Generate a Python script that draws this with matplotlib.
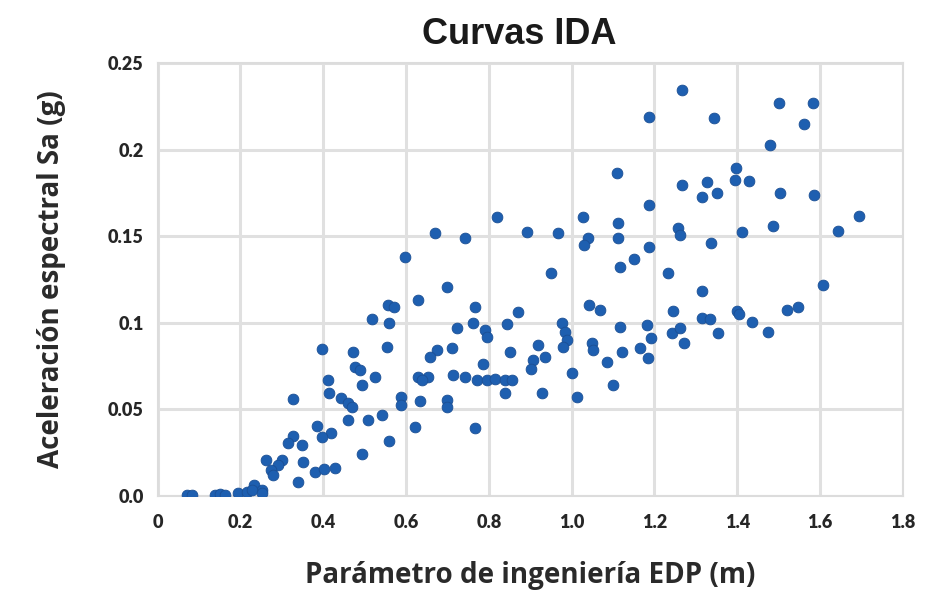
import matplotlib
matplotlib.use("Agg")
import matplotlib.pyplot as plt

# Engineering demand parameter (m) and spectral acceleration (g) for each IDA point
edp = [
    0.556, 0.572, 0.517, 0.560, 0.396, 0.473, 0.553, 0.476, 0.488, 0.524,
    0.493, 0.411, 0.415, 0.444, 0.459, 0.469, 0.589, 0.589, 0.326, 0.459,
    0.507, 0.543, 0.386, 0.420, 0.396, 0.326, 0.314, 0.348, 0.560, 0.493,
    0.263, 0.300, 0.290, 0.350, 0.275, 0.278, 0.379, 0.403, 0.428, 0.338,
    0.234, 0.251, 0.072, 0.082, 0.138, 0.150, 0.162, 0.193, 0.215, 0.227, 0.251,
    0.698, 0.628, 0.766, 0.870, 1.043, 1.068, 0.722, 0.761, 0.790, 0.795,
    0.845, 0.976, 0.983, 0.988, 0.978, 1.116, 1.181, 1.191, 0.710, 0.674,
    0.657, 0.850, 0.918, 0.935, 0.906, 0.903, 1.048, 1.051, 1.121, 1.164,
    1.184, 1.085, 0.787, 0.628, 0.652, 0.638, 0.713, 0.742, 0.771, 0.795,
    0.814, 0.838, 0.855, 1.002, 1.099, 0.838, 0.928, 1.014, 0.633, 0.698,
    0.698, 0.621, 0.766,
    1.606, 1.314, 1.244, 1.316, 1.333, 1.399, 1.403, 1.519, 1.546, 1.435,
    1.473, 1.353, 1.242, 1.261, 1.271,
    1.188, 1.109, 1.188, 0.819, 1.027, 0.669, 0.742, 0.891, 0.966, 1.039,
    1.031, 1.111, 1.111, 1.188, 1.150, 1.116, 0.597, 0.949, 1.266, 1.343,
    1.500, 1.582, 1.560, 1.478, 1.396, 1.394, 1.428, 1.326, 1.350, 1.314,
    1.266, 1.502, 1.585, 1.693, 1.486, 1.643, 1.256, 1.261, 1.411, 1.336,
    1.232,
]
sa = [
    0.110, 0.109, 0.102, 0.100, 0.085, 0.083, 0.086, 0.0745, 0.0727, 0.0687,
    0.0641, 0.067, 0.0595, 0.0566, 0.0537, 0.0514, 0.0572, 0.0525, 0.056, 0.0439,
    0.0439, 0.0468, 0.0404, 0.0364, 0.0341, 0.0346, 0.0306, 0.0294, 0.0318, 0.0242,
    0.0208, 0.0208, 0.0179, 0.0196, 0.015, 0.0121, 0.0139, 0.0156, 0.0162, 0.0081,
    0.0064, 0.0035, 0.0006, 0.0006, 0.0006, 0.0010, 0.0006, 0.0017, 0.0023, 0.0035, 0.0017,
    0.1207, 0.1132, 0.1091, 0.1062, 0.1103, 0.1074, 0.097, 0.0999, 0.0958, 0.0918,
    0.0993, 0.0999, 0.0947, 0.0901, 0.086, 0.0976, 0.0987, 0.0912, 0.0855, 0.0843,
    0.0803, 0.0831, 0.0872, 0.0803, 0.0785, 0.0733, 0.0883, 0.0843, 0.0831, 0.0855,
    0.0797, 0.0774, 0.0762, 0.0687, 0.0687, 0.067, 0.0699, 0.0687, 0.067, 0.067,
    0.0676, 0.067, 0.067, 0.071, 0.0641, 0.0595, 0.0595, 0.0572, 0.0548, 0.0554,
    0.0514, 0.0398, 0.0393,
    0.1218, 0.1184, 0.1068, 0.1028, 0.1022, 0.1068, 0.105, 0.1074, 0.1091, 0.1005,
    0.0947, 0.0941, 0.0941, 0.097, 0.0883,
    0.2188, 0.1865, 0.168, 0.1611, 0.1611, 0.1518, 0.149, 0.1524, 0.1518, 0.149,
    0.1449, 0.1576, 0.149, 0.1438, 0.1368, 0.1322, 0.138, 0.1288, 0.2344, 0.2182,
    0.2269, 0.2269, 0.2148, 0.2027, 0.1894, 0.1824, 0.1819, 0.1813, 0.175, 0.1726,
    0.1796, 0.175, 0.1738, 0.1617, 0.1559, 0.153, 0.1547, 0.1507, 0.1524, 0.1461,
    0.1288,
]

x_ticks = [0, 0.2, 0.4, 0.6, 0.8, 1.0, 1.2, 1.4, 1.6, 1.8]
x_tick_labels = ["0", "0.2", "0.4", "0.6", "0.8", "1.0", "1.2", "1.4", "1.6", "1.8"]
y_ticks = [0.0, 0.05, 0.10, 0.15, 0.20, 0.25]
y_tick_labels = ["0.0", "0.05", "0.1", "0.15", "0.2", "0.25"]

fig = plt.figure(figsize=(9.27, 5.96), dpi=100)
ax = fig.add_axes([0.170, 0.168, 0.804, 0.726])

ax.scatter(edp, sa, s=60, color="#1e5fb0", edgecolors="#1b4f94",
           linewidths=0.6, zorder=3)

ax.set_xlim(0, 1.8)
ax.set_ylim(0, 0.25)
ax.set_xticks(x_ticks)
ax.set_xticklabels(x_tick_labels)
ax.set_yticks(y_ticks)
ax.set_yticklabels(y_tick_labels)

ax.grid(True, color="#e0e0e0", linewidth=2.2, zorder=0)
ax.set_axisbelow(True)
for sp in ax.spines.values():
    sp.set_color("#dcdcdc")
    sp.set_linewidth(1.5)

ax.tick_params(axis="both", length=0, labelsize=13, colors="#262626")
ax.tick_params(axis="x", pad=13)
ax.tick_params(axis="y", pad=10)
for lbl in ax.get_xticklabels() + ax.get_yticklabels():
    lbl.set_fontfamily("Lato")
    lbl.set_fontweight("heavy")

ax.set_title("Curvas IDA", fontsize=26, fontweight="bold",
             fontfamily="Liberation Sans", color="#1a1a1a", pad=14, x=0.485)
ax.set_xlabel("Parámetro de ingeniería EDP (m)", fontsize=20,
              fontweight="bold", fontfamily="Open Sans", color="#2a2a2a", labelpad=22)
ax.set_ylabel("Aceleración espectral Sa (g)", fontsize=20,
              fontweight="bold", fontfamily="Open Sans", color="#2a2a2a", labelpad=30)

fig.savefig("out.png", dpi=100, facecolor="white")
